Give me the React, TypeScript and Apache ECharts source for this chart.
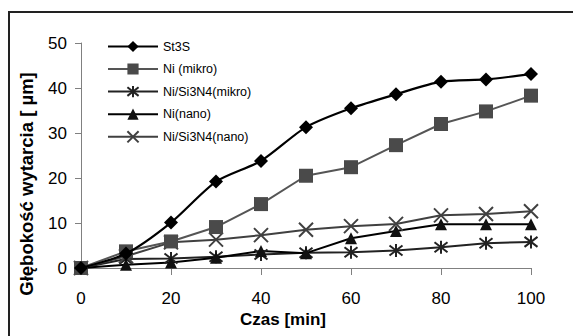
import React, { useEffect, useRef } from "react";
import * as echarts from "echarts";

const times = [0, 10, 20, 30, 40, 50, 60, 70, 80, 90, 100];
const st3s = [0, 3.2, 10.1, 19.2, 23.8, 31.3, 35.5, 38.6, 41.4, 41.9, 43.1];
const niMikro = [0, 3.7, 5.9, 9.1, 14.2, 20.5, 22.4, 27.3, 32.0, 34.8, 38.3];
const niSiMikro = [0, 2.0, 2.1, 2.5, 3.0, 3.4, 3.5, 3.9, 4.6, 5.5, 5.8];
const niNano = [0, 0.7, 1.2, 2.3, 3.8, 3.3, 6.6, 8.2, 9.7, 9.7, 9.7];
const niSiNano = [0, 2.6, 5.7, 6.3, 7.3, 8.5, 9.3, 9.8, 11.7, 12.0, 12.6];

const seriesNames = ["St3S", "Ni (mikro)", "Ni/Si3N4(mikro)", "Ni(nano)", "Ni/Si3N4(nano)"];
const yTitle = "Głębokość wytarcia [ µm]";
const xTitle = "Czas [min]";

const FONT = "'Liberation Sans', Arial, sans-serif";
const ASTERISK = "path://M0,0L10,10M10,0L0,10M5,-1.5L5,11.5";
const CROSS = "path://M0,0L10,10M10,0L0,10";

const pair = (vals: number[]) => times.map((t, i) => [t, vals[i]]);

export default function App() {
  const ref = useRef<HTMLDivElement>(null);
  useEffect(() => {
    const chart = echarts.init(ref.current!, null, { renderer: "svg" });
    chart.setOption({
      animation: false,
      backgroundColor: "#fff",
      grid: { left: 81, right: 42, top: 43, bottom: 68, containLabel: false },
      legend: {
        orient: "vertical",
        left: 107,
        top: 40,
        padding: 0,
        itemWidth: 50,
        itemHeight: 14,
        itemGap: 9.5,
        textStyle: { fontFamily: FONT, fontSize: 12.5, color: "#000" },
        data: seriesNames,
      },
      xAxis: {
        type: "value",
        min: 0,
        max: 100,
        interval: 20,
        axisLine: { lineStyle: { color: "#808080", width: 1 } },
        axisTick: { length: 7, lineStyle: { color: "#808080" } },
        axisLabel: { fontFamily: FONT, fontSize: 17, color: "#000", margin: 22 },
        splitLine: { show: false },
      },
      yAxis: {
        type: "value",
        min: 0,
        max: 50,
        interval: 10,
        axisLine: { show: true, lineStyle: { color: "#808080", width: 1 } },
        axisTick: { show: true, length: 6, lineStyle: { color: "#808080" } },
        axisLabel: { fontFamily: FONT, fontSize: 17, color: "#000", margin: 14 },
        splitLine: { show: false },
      },
      graphic: [
        {
          type: "rect",
          shape: { x: 9, y: 12, width: 700, height: 500 },
          style: { fill: "none", stroke: "#222", lineWidth: 2 },
          silent: true,
        },
        {
          type: "text",
          x: 26,
          y: 184,
          rotation: Math.PI / 2,
          style: {
            text: yTitle,
            fontFamily: FONT,
            fontSize: 18.5,
            fontWeight: "bold",
            fill: "#000",
            align: "center",
            verticalAlign: "middle",
          },
        },
        {
          type: "text",
          x: 283,
          y: 319,
          style: {
            text: xTitle,
            fontFamily: FONT,
            fontSize: 17,
            fontWeight: "bold",
            fill: "#000",
            align: "center",
            verticalAlign: "middle",
          },
        },
      ],
      series: [
        {
          name: seriesNames[0],
          type: "line",
          data: pair(st3s),
          smooth: 0.25,
          symbol: "diamond",
          symbolSize: 14,
          lineStyle: { color: "#000", width: 2.2 },
          itemStyle: { color: "#000" },
          z: 5,
        },
        {
          name: seriesNames[1],
          type: "line",
          data: pair(niMikro),
          symbol: "rect",
          symbolSize: 14,
          lineStyle: { color: "#555", width: 2 },
          itemStyle: { color: "#4a4a4a" },
          z: 4,
        },
        {
          name: seriesNames[2],
          type: "line",
          data: pair(niSiMikro),
          symbol: ASTERISK,
          symbolSize: 13,
          lineStyle: { color: "#222", width: 2 },
          itemStyle: { color: "#222", borderColor: "#222", borderWidth: 2 },
          z: 3,
        },
        {
          name: seriesNames[3],
          type: "line",
          data: pair(niNano),
          symbol: "triangle",
          symbolSize: 12,
          lineStyle: { color: "#000", width: 2 },
          itemStyle: { color: "#111" },
          z: 3,
        },
        {
          name: seriesNames[4],
          type: "line",
          data: pair(niSiNano),
          symbol: CROSS,
          symbolSize: 14,
          lineStyle: { color: "#404040", width: 2 },
          itemStyle: { color: "#404040", borderColor: "#404040", borderWidth: 2 },
          z: 3,
        },
      ],
    });
    return () => chart.dispose();
  }, []);
  return (
    <div
      ref={ref}
      style={{ position: "fixed", left: 0, top: 0, width: 573, height: 336 }}
    />
  );
}
